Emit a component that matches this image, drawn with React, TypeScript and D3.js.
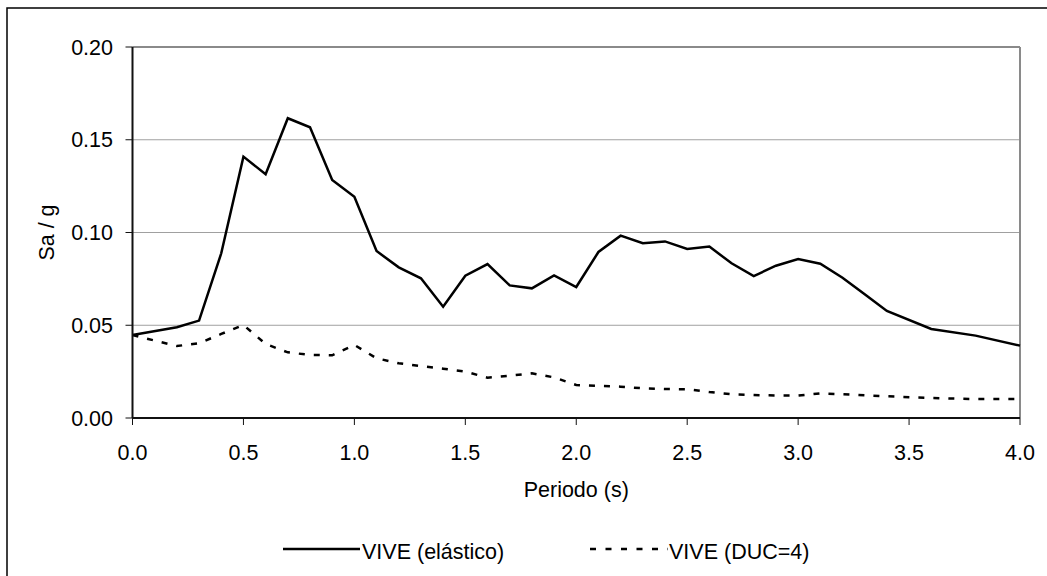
import React from "react";
import * as d3 from "d3";

// periods (s)
const periods = [0, 0.2, 0.3, 0.4, 0.5, 0.6, 0.7, 0.8, 0.9, 1.0, 1.1, 1.2, 1.3, 1.4, 1.5, 1.6, 1.7, 1.8, 1.9, 2.0,
	2.1, 2.2, 2.3, 2.4, 2.5, 2.6, 2.7, 2.8, 2.9, 3.0, 3.1, 3.2, 3.3, 3.4, 3.6, 3.8, 4.0];
const elastic = [0.0447, 0.0489, 0.0525, 0.0888, 0.1409, 0.1314, 0.1616, 0.1567, 0.1283, 0.1193, 0.0900, 0.0812,
	0.0753, 0.0600, 0.0767, 0.0830, 0.0715, 0.0699, 0.0769, 0.0706, 0.0895, 0.0983, 0.0942, 0.0952, 0.0911, 0.0924,
	0.0834, 0.0765, 0.0821, 0.0857, 0.0832, 0.0756, 0.0667, 0.0577, 0.0480, 0.0444, 0.0390];
const ductile = [0.0447, 0.0388, 0.0403, 0.0453, 0.0501, 0.0399, 0.0354, 0.0340, 0.0338, 0.0394, 0.0322, 0.0295,
	0.0280, 0.0266, 0.0250, 0.0217, 0.0228, 0.0241, 0.0219, 0.0178, 0.0173, 0.0169, 0.0160, 0.0156, 0.0155, 0.0140,
	0.0128, 0.0124, 0.0121, 0.0121, 0.0133, 0.0128, 0.0122, 0.0117, 0.0108, 0.0102, 0.0102];
const xTicks = [0, 0.5, 1.0, 1.5, 2.0, 2.5, 3.0, 3.5, 4.0];
const yTicks = [0, 0.05, 0.10, 0.15, 0.20];
const seriesNames = ["VIVE (elástico)", "VIVE (DUC=4)"];

const font = '"Liberation Sans", Arial, sans-serif';

export default function App() {
	const left = 132.5, right = 1020, top = 47, bottom = 418;
	const x = d3.scaleLinear().domain([0, 4]).range([left, right]);
	const y = d3.scaleLinear().domain([0, 0.2]).range([bottom, top]);

	const line = d3.line<number>()
		.x((_, i) => x(periods[i]))
		.y((d) => y(d));

	return (
		<svg width={1047} height={576} style={{ position: "absolute", left: 0, top: 0 }} fontFamily={font}>
			<rect x={0} y={0} width={1047} height={576} fill="#fff" />
			{/* outer frame */}
			<rect x={7} y={8} width={1060} height={600} fill="none" stroke="#000" strokeWidth={1.5} />

			{/* gridlines */}
			{yTicks.filter((t) => t > 0 && t < 0.2).map((t) => (
				<line key={t} x1={left} x2={right} y1={y(t)} y2={y(t)} stroke="#a0a0a0" strokeWidth={1} />
			))}
			{/* plot area border */}
			<line x1={left} x2={right} y1={top} y2={top} stroke="#8a8a8a" strokeWidth={2} />
			<line x1={right} x2={right} y1={top} y2={bottom} stroke="#8a8a8a" strokeWidth={2} />

			{/* series */}
			<path d={line(elastic) || ""} fill="none" stroke="#000" strokeWidth={2.5} strokeLinejoin="miter" />
			<path d={line(ductile) || ""} fill="none" stroke="#000" strokeWidth={2.5} strokeDasharray="6 9" />

			{/* axes */}
			<line x1={left} x2={left} y1={top} y2={bottom} stroke="#111" strokeWidth={2} />
			<line x1={left} x2={right} y1={bottom} y2={bottom} stroke="#111" strokeWidth={2} />
			{yTicks.map((t) => (
				<g key={t}>
					<line x1={left - 7} x2={left} y1={y(t)} y2={y(t)} stroke="#111" strokeWidth={1} />
					<text x={113} y={y(t)} dy="0.35em" textAnchor="end" fontSize={21.5}>{t.toFixed(2)}</text>
				</g>
			))}
			{xTicks.map((t) => (
				<g key={t}>
					<line x1={x(t)} x2={x(t)} y1={bottom} y2={bottom + 7} stroke="#111" strokeWidth={1} />
					<text x={x(t)} y={459.5} textAnchor="middle" fontSize={21.5}>{t.toFixed(1)}</text>
				</g>
			))}
			<text x={(left + right) / 2} y={497} textAnchor="middle" fontSize={21.5}>Periodo (s)</text>
			<text transform={`translate(54, ${(top + bottom) / 2}) rotate(-90)`} textAnchor="middle" fontSize={21.5}>Sa / g</text>

			{/* legend */}
			<line x1={283} x2={360} y1={549} y2={549} stroke="#000" strokeWidth={2.5} />
			<text x={362} y={559} fontSize={21.5}>{seriesNames[0]}</text>
			<line x1={590} x2={668} y1={549} y2={549} stroke="#000" strokeWidth={2.5} strokeDasharray="6 9.5" />
			<text x={669} y={559} fontSize={21.5}>{seriesNames[1]}</text>
		</svg>
	);
}
